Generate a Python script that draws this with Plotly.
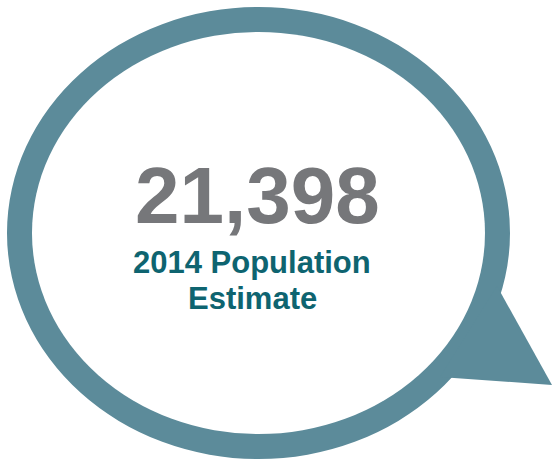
import plotly.graph_objects as go

population_value = [21398]
year_label = ["2014"]
caption_lines = ["2014 Population", "Estimate"]

W, H = 553, 461
ring_color = "#5C8B9A"
num_color = "#76777A"
cap_color = "#0E6470"

fig = go.Figure()

x0o, x1o, y0o, y1o = 7, 510, 7, 459
t = 25

shapes = [
    dict(type="circle", xref="x", yref="y", x0=x0o, x1=x1o, y0=y0o, y1=y1o,
         fillcolor=ring_color, line=dict(width=0), layer="below"),
    dict(type="path", xref="x", yref="y", path="M 497 286 L 552 385 L 440 377 Z",
         fillcolor=ring_color, line=dict(width=0), layer="below"),
    dict(type="circle", xref="x", yref="y", x0=x0o + t, x1=x1o - t, y0=y0o + t, y1=y1o - t,
         fillcolor="white", line=dict(width=0), layer="below"),
]

fig.add_annotation(x=257, y=242, xref="x", yref="y", text=f"{population_value[0]:,}",
                   showarrow=False, yanchor="bottom", xanchor="center",
                   font=dict(family="Liberation Sans, Arial", size=80, color=num_color, weight="bold"))
fig.add_annotation(x=252, y=262, xref="x", yref="y", text=caption_lines[0],
                   showarrow=False, yanchor="middle", xanchor="center",
                   font=dict(family="Liberation Sans, Arial", size=31, color=cap_color, weight="bold"))
fig.add_annotation(x=252, y=298, xref="x", yref="y", text=caption_lines[1],
                   showarrow=False, yanchor="middle", xanchor="center",
                   font=dict(family="Liberation Sans, Arial", size=31, color=cap_color, weight="bold"))

fig.update_layout(
    width=W, height=H, margin=dict(l=0, r=0, t=0, b=0),
    paper_bgcolor="white", plot_bgcolor="white",
    shapes=shapes, showlegend=False,
    xaxis=dict(range=[0, W], visible=False, fixedrange=True),
    yaxis=dict(range=[H, 0], visible=False, fixedrange=True),
)
fig.write_html("out.html", config={"displayModeBar": False},
               post_script="document.body.style.margin='0';document.body.style.overflow='hidden';")
